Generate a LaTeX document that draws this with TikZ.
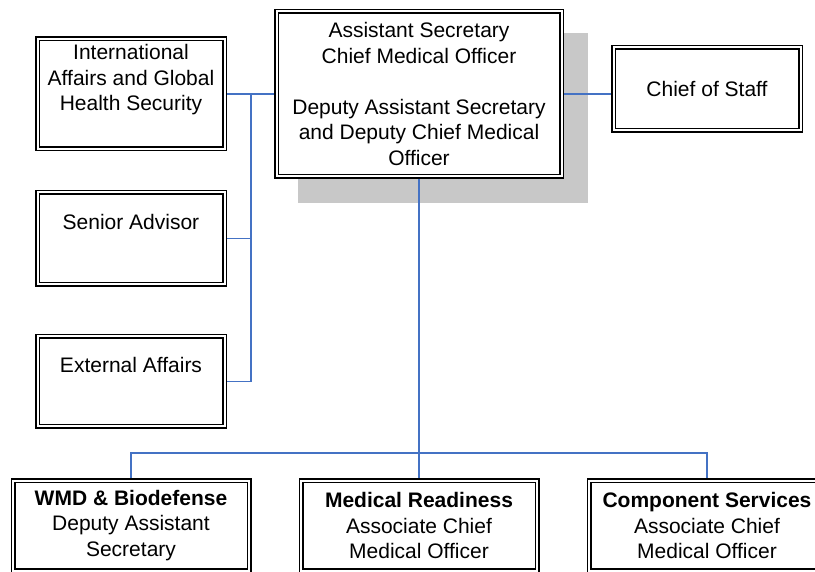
\documentclass[tikz,border=0pt]{standalone}
\usepackage{fontspec}
\setmainfont{Liberation Sans}
\usetikzlibrary{backgrounds}
\definecolor{linkblue}{RGB}{68,114,196}
\definecolor{shadowgray}{RGB}{200,200,200}
\tikzset{
	unit/.style={draw, fill=white, line width=1.5pt, double, double distance=2pt, outer sep=2.5pt, inner sep=0pt, align=center, font=\fontsize{21}{25.5}\selectfont},
	link/.style={draw=linkblue, line width=1.5pt},
}
\begin{document}
\begin{tikzpicture}[x=1pt,y=-1pt]
	\clip (0,0) rectangle (815,572);
		\node[unit, minimum width=285pt, minimum height=165pt] (main) at (419,94) {Assistant Secretary\\Chief Medical Officer\\[25.5pt]Deputy Assistant Secretary\\and Deputy Chief Medical\\Officer};
		\node[unit, minimum width=187pt, minimum height=110pt] (intl) at (131,94) {International\\Affairs and Global\\Health Security\\\strut};
		\node[unit, minimum width=187pt, minimum height=92pt] (senior) at (131,238.5) {Senior Advisor\\\strut};
		\node[unit, minimum width=187pt, minimum height=90pt] (external) at (131,381.5) {External Affairs\\\strut};
		\node[unit, minimum width=187pt, minimum height=83pt] (chief) at (707,89) {Chief of Staff};
		\node[unit, minimum width=236pt, minimum height=90pt] (wmd) at (131,525.5) {\textbf{WMD \& Biodefense}\\Deputy Assistant\\Secretary};
		\node[unit, minimum width=236pt, minimum height=90pt] (ready) at (419,525.5) {\textbf{Medical Readiness}\\Associate Chief\\Medical Officer};
		\node[unit, minimum width=236pt, minimum height=90pt] (comp) at (707,525.5) {\textbf{Component Services}\\Associate Chief\\Medical Officer};
		\begin{scope}[on background layer]
			\fill[shadowgray] ([shift={(24,24)}]main.north west) rectangle ([shift={(24,24)}]main.south east);
		\end{scope}
		% staff offices on the left
		\draw[link] (intl.east) -- (main.west);
		\coordinate (spine) at (251,94);
		\draw[link] (spine) |- (senior.east);
		\draw[link] (spine) |- (external.east);
		\draw[link] (main.east) -- (main.east -| chief.west);
		% line offices below
		\coordinate (bus) at (419,453);
		\draw[link] (main.south) -- (bus);
		\draw[link] (wmd.north) |- (bus) -| (comp.north);
		\draw[link] (bus) -- (ready.north);
	\end{tikzpicture}
\end{document}
